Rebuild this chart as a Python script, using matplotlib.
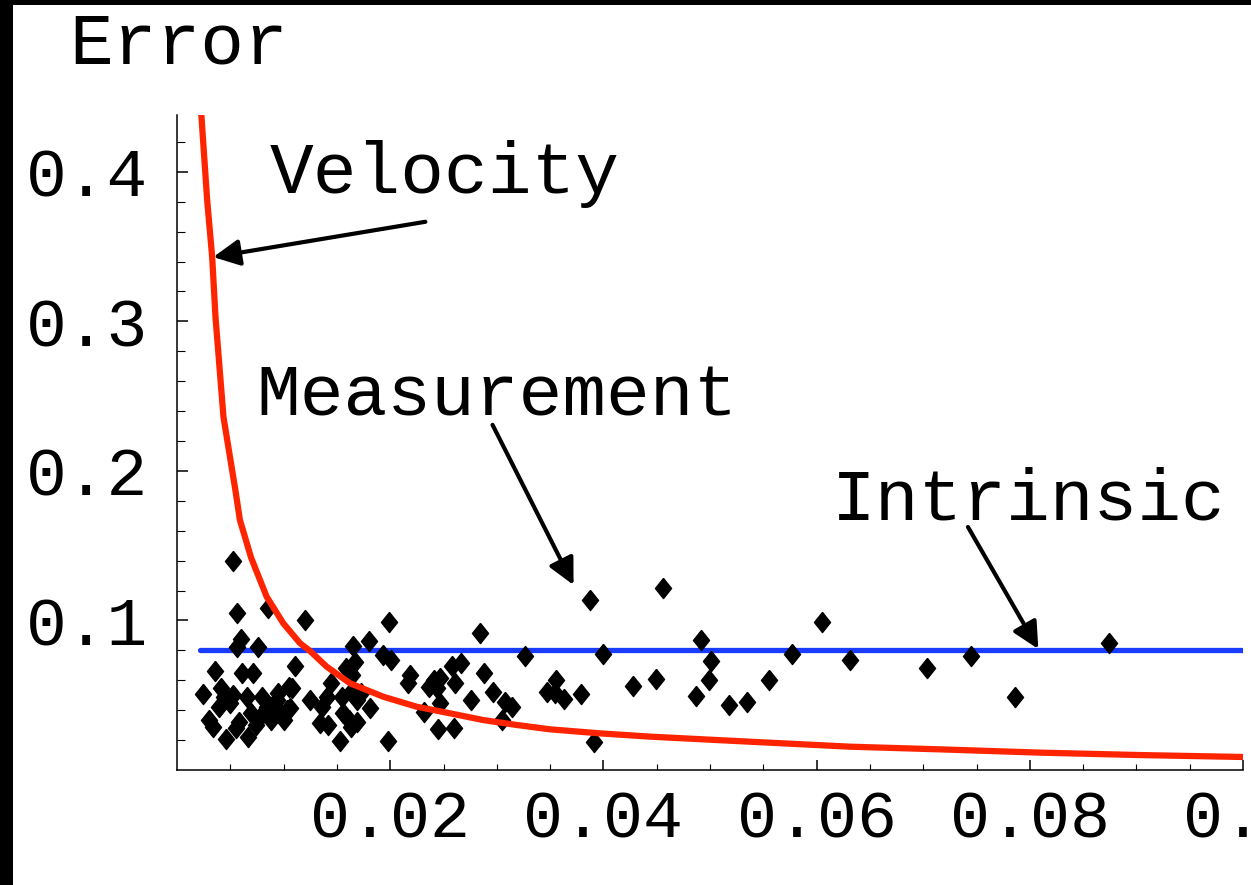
import numpy as np
import matplotlib
matplotlib.use("Agg")
from matplotlib import pyplot as plt
from matplotlib.patches import Rectangle

# velocity error curve
velocity_x = [0.00227, 0.00283, 0.0033, 0.00361, 0.00436, 0.00548, 0.0059, 0.00695,
              0.00841, 0.00997, 0.01154, 0.01248, 0.01404, 0.01623, 0.01935, 0.02249,
              0.02561, 0.02873, 0.03187, 0.03499, 0.03968, 0.0444, 0.0538, 0.0631,
              0.0716, 0.081, 0.0903, 0.1]
velocity_y = [0.4395, 0.381, 0.343, 0.303, 0.236, 0.187, 0.1672, 0.142,
              0.1159, 0.0981, 0.0848, 0.0796, 0.0691, 0.058, 0.049, 0.0423,
              0.0379, 0.0334, 0.0301, 0.0272, 0.0245, 0.0223, 0.0189, 0.0156,
              0.0138, 0.0116, 0.0100, 0.0087]

# intrinsic error level
intrinsic_x = [0.0022, 0.1]
intrinsic_y = [0.08, 0.08]

# measurement error points
meas_x = [0.0387, 0.0456, 0.0605, 0.0492, 0.0400, 0.0501, 0.0577, 0.0631, 0.0356, 0.0363,
          0.0379, 0.0428, 0.0449, 0.0499, 0.0487, 0.0518, 0.0535, 0.0555, 0.0391, 0.0704,
          0.0745, 0.0786, 0.0874, 0.0284, 0.0326, 0.0219, 0.0217, 0.0236, 0.0241, 0.0247,
          0.0244, 0.0258, 0.0266, 0.0261, 0.0288, 0.0296, 0.0276, 0.0247, 0.0232, 0.0245,
          0.0260, 0.0308, 0.0314, 0.0305, 0.0347, 0.0355, 0.0120, 0.0199, 0.0180, 0.0165,
          0.0193, 0.0201, 0.0111, 0.0167, 0.0159, 0.0164, 0.0144, 0.0108, 0.0125, 0.0136,
          0.0141, 0.0155, 0.0163, 0.0173, 0.0169, 0.0181, 0.0156, 0.0161, 0.0169, 0.0134,
          0.0142, 0.0163, 0.0153, 0.0198, 0.0106, 0.0053, 0.0056, 0.0085, 0.0060, 0.0056,
          0.0076, 0.0036, 0.0061, 0.0071, 0.0024, 0.0041, 0.0044, 0.0053, 0.0050, 0.0039,
          0.0030, 0.0034, 0.0058, 0.0055, 0.0069, 0.0080, 0.0078, 0.0084, 0.0095, 0.0105,
          0.0095, 0.0103, 0.0100, 0.0088, 0.0074, 0.0046, 0.0067, 0.0066, 0.0094]
meas_y = [0.1137, 0.1215, 0.0990, 0.0870, 0.0774, 0.0729, 0.0778, 0.0736, 0.0602, 0.0477,
          0.0508, 0.0562, 0.0609, 0.0602, 0.0495, 0.0437, 0.0455, 0.0600, 0.0189, 0.0680,
          0.0765, 0.0486, 0.0852, 0.0918, 0.0763, 0.0635, 0.0584, 0.0557, 0.0602, 0.0613,
          0.0546, 0.0696, 0.0718, 0.0580, 0.0647, 0.0522, 0.0468, 0.0446, 0.0386, 0.0274,
          0.0279, 0.0457, 0.0423, 0.0334, 0.0524, 0.0513, 0.1003, 0.0992, 0.0865, 0.0829,
          0.0769, 0.0736, 0.0698, 0.0724, 0.0680, 0.0635, 0.0580, 0.0546, 0.0468, 0.0423,
          0.0490, 0.0490, 0.0524, 0.0513, 0.0468, 0.0413, 0.0379, 0.0334, 0.0323, 0.0312,
          0.0301, 0.0290, 0.0194, 0.0194, 0.0415, 0.1400, 0.1048, 0.1086, 0.0874, 0.0825,
          0.0825, 0.0662, 0.0647, 0.0647, 0.0506, 0.0546, 0.0490, 0.0502, 0.0446, 0.0423,
          0.0334, 0.0290, 0.0323, 0.0279, 0.0379, 0.0490, 0.0357, 0.0423, 0.0513, 0.0557,
          0.0401, 0.0401, 0.0334, 0.0334, 0.0301, 0.0205, 0.0223, 0.0490, 0.0468]

x_ticks = [0.02, 0.04, 0.06, 0.08, 0.1]
x_labels = ["0.02", "0.04", "0.06", "0.08", "0.1"]
y_ticks = [0.1, 0.2, 0.3, 0.4]
y_labels = ["0.1", "0.2", "0.3", "0.4"]

FONT = "Liberation Mono"
W, H = 1251, 885

fig = plt.figure(figsize=(W / 100, H / 100), dpi=100)
fig.patch.set_facecolor("white")

# black slide edges on the top and the left
fig.patches.append(Rectangle((0, 1 - 5 / H), 1, 5 / H, transform=fig.transFigure,
                             facecolor="black", edgecolor="none", zorder=0))
fig.patches.append(Rectangle((0, 0), 13 / W, 1, transform=fig.transFigure,
                             facecolor="black", edgecolor="none", zorder=0))

ax = fig.add_axes([177 / W, 1 - 770 / H, (1243 - 177) / W, (770 - 115) / H])
ax.set_xlim(0, 0.1)
ax.set_ylim(0, 0.438)

for side in ("top", "right"):
    ax.spines[side].set_visible(False)
for side in ("left", "bottom"):
    ax.spines[side].set_linewidth(1.1)
    ax.spines[side].set_color("black")

diamond = [(0, 0.5), (0.4, 0), (0, -0.5), (-0.4, 0), (0, 0.5)]
ax.plot(meas_x, meas_y, linestyle="none", marker=diamond, markersize=14.5,
        color="black", zorder=3, clip_on=False)
ax.plot(intrinsic_x, intrinsic_y, color="#1a3cff", lw=3.8, zorder=2,
        solid_capstyle="round")
ax.plot(velocity_x, velocity_y, color="#ff2400", lw=4.5, zorder=4,
        solid_joinstyle="round")

ax.set_xticks(x_ticks)
ax.set_xticklabels(x_labels, fontfamily=FONT, fontsize=48)
ax.set_xticks(np.arange(0.005, 0.1, 0.005), minor=True)
ax.set_yticks(y_ticks)
ax.set_yticklabels(y_labels, fontfamily=FONT, fontsize=49)
ax.set_yticks(np.arange(0.02, 0.44, 0.02), minor=True)

ax.tick_params(axis="x", which="major", direction="in", length=7, width=1.1, pad=14)
ax.tick_params(axis="x", which="minor", direction="in", length=4, width=0.8)
ax.tick_params(axis="y", which="major", direction="in", length=8, width=1.1, pad=21)
ax.tick_params(axis="y", which="minor", direction="in", length=6, width=0.8)

fig.text(69 / W, 1 - 64 / H, "Error", fontfamily=FONT, fontsize=52.5,
         ha="left", va="baseline")
fig.text(270 / W, 1 - 193 / H, "Velocity", fontfamily=FONT, fontsize=52.5,
         ha="left", va="baseline")
fig.text(256 / W, 1 - 415 / H, "Measurement", fontfamily=FONT, fontsize=52.5,
         ha="left", va="baseline")
fig.text(832 / W, 1 - 520 / H, "Intrinsic", fontfamily=FONT, fontsize=52.5,
         ha="left", va="baseline")

arrow = dict(arrowstyle="-|>,head_length=0.8,head_width=0.4", color="black",
             lw=3, mutation_scale=20, shrinkA=0, shrinkB=0)
ax.annotate("", xy=(0.0034, 0.343), xytext=(0.0233, 0.3666),
            arrowprops=arrow, annotation_clip=False)
ax.annotate("", xy=(0.0372, 0.1237), xytext=(0.0296, 0.2308),
            arrowprops=arrow, annotation_clip=False)
ax.annotate("", xy=(0.0808, 0.0809), xytext=(0.0742, 0.1625),
            arrowprops=arrow, annotation_clip=False)

fig.savefig("out.png", dpi=100)
